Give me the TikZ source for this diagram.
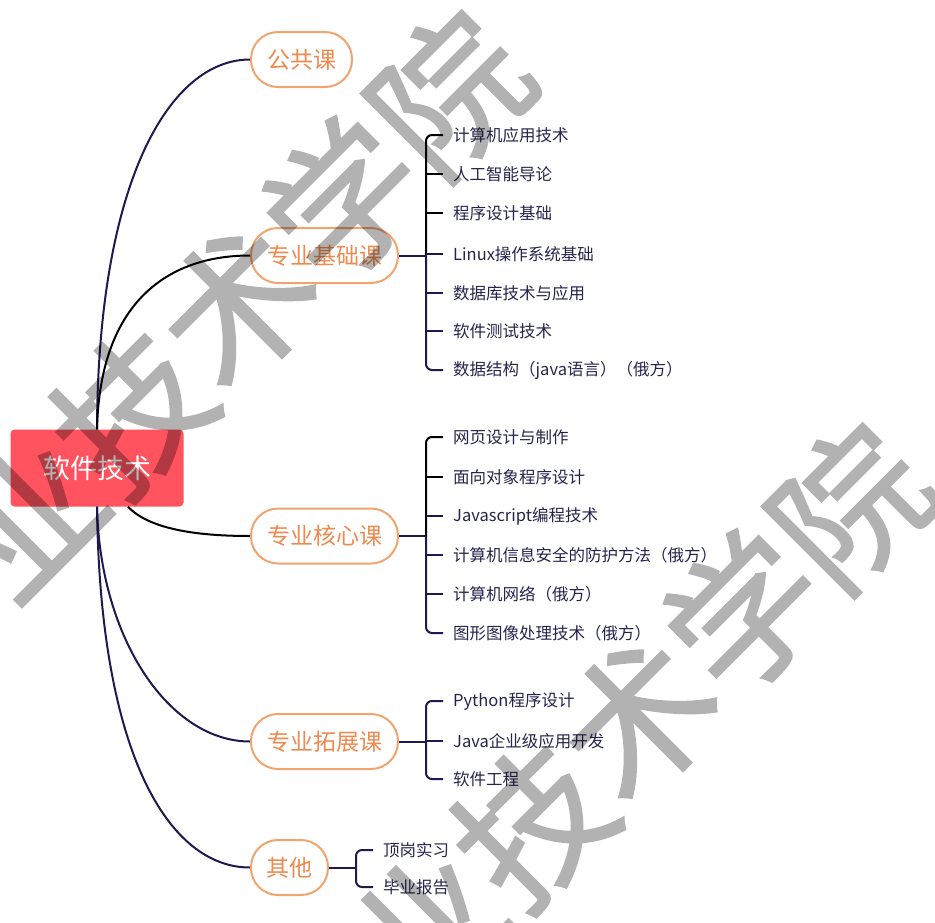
\documentclass[tikz,border=0pt]{standalone}
\usepackage{fontspec}
\newfontfamily\cjk{Noto Sans CJK SC}
\newfontfamily\wmfont{Noto Sans CJK SC}[FakeBold=1.2]
\usetikzlibrary{calc}
\definecolor{rootred}{HTML}{FF535F}
\definecolor{pillline}{HTML}{F2A46F}
\definecolor{pilltext}{HTML}{EE8A4F}
\definecolor{navy}{HTML}{1E1A50}
\definecolor{itemtext}{HTML}{26244E}
\tikzset{
  rootbox/.style={fill=rootred, rounded corners=4pt, minimum width=173pt, minimum height=77pt,
    text=white, font=\cjk\fontsize{27}{32}\selectfont, inner sep=0pt},
  pill/.style={draw=pillline, line width=2pt, fill=white, rounded corners=27pt, minimum height=55pt,
    text=pilltext, font=\cjk\fontsize{23}{28}\selectfont, inner sep=0pt},
  item/.style={anchor=west, inner xsep=10pt, inner ysep=2pt, text=itemtext,
    font=\cjk\fontsize{16.5}{20}\selectfont},
  blk/.style={draw=black, line width=2pt},
  nvy/.style={draw=navy, line width=2pt},
  wm/.style={font=\wmfont\fontsize{150}{150}\selectfont, text=black, inner sep=0pt}
}
\begin{document}
\begin{tikzpicture}[x=1pt,y=-1pt]
\useasboundingbox (0,0) rectangle (935,922);
% root and branches
\node[rootbox] (root) at (97,468) {软件技术};
\node[pill, minimum width=101pt] (gg) at (301.5,59.5) {公共课};
\node[pill, minimum width=147pt] (jc) at (324.5,255.5) {专业基础课};
\node[pill, minimum width=147pt] (hx) at (324.5,536) {专业核心课};
\node[pill, minimum width=147pt] (tz) at (324.5,741.5) {专业拓展课};
\node[pill, minimum width=77pt] (qt) at (289.5,867.5) {其他};
% root connectors
\draw[nvy] (root.north) .. controls (98,180) and (170,59.5) .. (gg.west);
\draw[blk] (root.north) .. controls (100,300) and (170,255.5) .. (jc.west);
\draw[blk] ([xshift=31pt]root.south) .. controls (150,530) and (200,536) .. (hx.west);
\draw[nvy] (root.south) .. controls (100,640) and (170,741.5) .. (tz.west);
\draw[nvy] (root.south) .. controls (100,757) and (170,867.5) .. (qt.west);
% items of jc
\coordinate (jcS) at ($(jc.east)+(27,0)$);
\node[item] (a1) at (443,135) {计算机应用技术};
\node[item] (a2) at (443,174) {人工智能导论};
\node[item] (a3) at (443,213) {程序设计基础};
\node[item] (a4) at (443,254) {Linux操作系统基础};
\node[item] (a5) at (443,293) {数据库技术与应用};
\node[item] (a6) at (443,331) {软件测试技术};
\node[item] (a7) at (443,370) {数据结构（java语言）（俄方）};
\draw[nvy] (jc.east) -- (jcS);
\draw[blk, rounded corners=6pt] (a1.west) -| (jcS);
\draw[nvy, rounded corners=6pt] (jcS) |- (a7.west);
\draw[blk] (a2.west) -- (a2.west -| jcS);
\draw[blk] (a3.west) -- (a3.west -| jcS);
\draw[nvy] (a4.west) -- (a4.west -| jcS);
\draw[nvy] (a5.west) -- (a5.west -| jcS);
\draw[nvy] (a6.west) -- (a6.west -| jcS);
% items of hx
\coordinate (hxS) at ($(hx.east)+(27,0)$);
\node[item] (b1) at (443,437) {网页设计与制作};
\node[item] (b2) at (443,477) {面向对象程序设计};
\node[item] (b3) at (443,516) {Javascript编程技术};
\node[item] (b4) at (443,555) {计算机信息安全的防护方法（俄方）};
\node[item] (b5) at (443,594) {计算机网络（俄方）};
\node[item] (b6) at (443,633) {图形图像处理技术（俄方）};
\draw[nvy] (hx.east) -- (hxS);
\draw[blk, rounded corners=6pt] (b1.west) -| (hxS);
\draw[nvy, rounded corners=6pt] (hxS) |- (b6.west);
\draw[blk] (b2.west) -- (b2.west -| hxS);
\draw[nvy] (b3.west) -- (b3.west -| hxS);
\draw[nvy] (b4.west) -- (b4.west -| hxS);
\draw[nvy] (b5.west) -- (b5.west -| hxS);
% items of tz
\coordinate (tzS) at ($(tz.east)+(27,0)$);
\node[item] (c1) at (443,701) {Python程序设计};
\node[item] (c2) at (443,741) {Java企业级应用开发};
\node[item] (c3) at (443,779) {软件工程};
\draw[nvy] (tz.east) -- (tzS);
\draw[nvy, rounded corners=6pt] (c1.west) -| (tzS) |- (c3.west);
\draw[nvy] (c2.west) -- (c2.west -| tzS);
% items of qt
\coordinate (qtS) at ($(qt.east)+(27,0)$);
\node[item] (d1) at (373,850) {顶岗实习};
\node[item] (d2) at (373,887) {毕业报告};
\draw[nvy] (qt.east) -- (qtS);
\draw[nvy, rounded corners=6pt] (d1.west) -| (qtS) |- (d2.west);
% watermarks
\begin{scope}[transparency group, opacity=0.3]
\node[wm, rotate=45] (wm1) at (237,305) {业技术学院};
\node[wm, rotate=45] (wm2) at (638,718) {业技术学院};
\end{scope}
\end{tikzpicture}
\end{document}
